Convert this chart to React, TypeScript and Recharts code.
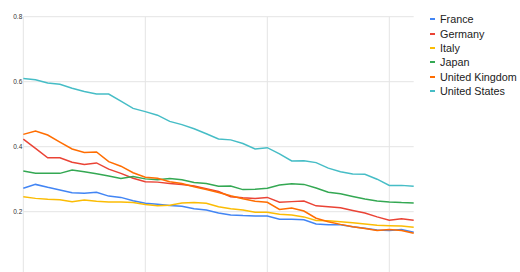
import React from "react";
import { LineChart, Line, XAxis, YAxis, CartesianGrid } from "recharts";

const years = [
  1990, 1991, 1992, 1993, 1994, 1995, 1996, 1997, 1998, 1999, 2000, 2001, 2002, 2003, 2004, 2005, 2006,
  2007, 2008, 2009, 2010, 2011, 2012, 2013, 2014, 2015, 2016, 2017, 2018, 2019, 2020, 2021, 2022,
];

const france = [
  0.272, 0.284, 0.275, 0.267, 0.258, 0.257, 0.26, 0.248, 0.244, 0.234, 0.226, 0.223, 0.219, 0.217, 0.209,
  0.205, 0.196, 0.19, 0.188, 0.187, 0.187, 0.177, 0.177, 0.175, 0.162, 0.16, 0.16, 0.154, 0.149, 0.144,
  0.142, 0.145, 0.137,
];
const germany = [
  0.423, 0.395, 0.366, 0.366, 0.352, 0.345, 0.35, 0.331, 0.318, 0.303, 0.292, 0.291, 0.287, 0.284, 0.279,
  0.271, 0.262, 0.246, 0.243, 0.241, 0.244, 0.229, 0.231, 0.233, 0.218, 0.215, 0.212, 0.204, 0.196, 0.184,
  0.174, 0.178, 0.174,
];
const italy = [
  0.246, 0.241, 0.238, 0.237, 0.231, 0.236, 0.232, 0.23, 0.23, 0.228, 0.222, 0.218, 0.22, 0.227, 0.228,
  0.226, 0.215, 0.209, 0.205, 0.198, 0.198, 0.192, 0.19, 0.184, 0.173, 0.172, 0.169, 0.166, 0.162, 0.158,
  0.157, 0.156, 0.152,
];
const japan = [
  0.325, 0.318, 0.318, 0.318, 0.328, 0.323, 0.317, 0.31, 0.302, 0.308, 0.301, 0.298, 0.302, 0.298, 0.29,
  0.287, 0.278, 0.279, 0.268, 0.269, 0.272, 0.282, 0.286, 0.284, 0.273, 0.26, 0.255, 0.247, 0.239, 0.233,
  0.23, 0.228, 0.227,
];
const unitedKingdom = [
  0.438, 0.448, 0.436, 0.414, 0.393, 0.382, 0.384, 0.354, 0.34, 0.32, 0.306, 0.303, 0.292, 0.287, 0.277,
  0.268, 0.259, 0.249, 0.24, 0.232, 0.229, 0.207, 0.211, 0.202, 0.18, 0.169, 0.161, 0.154, 0.148, 0.142,
  0.145, 0.142, 0.134,
];
const unitedStates = [
  0.61, 0.606, 0.596, 0.592, 0.58, 0.57, 0.562, 0.562, 0.54, 0.518, 0.508, 0.497, 0.478, 0.468, 0.455,
  0.44, 0.424, 0.421, 0.41, 0.393, 0.397, 0.378, 0.356, 0.357, 0.351, 0.334, 0.323, 0.316, 0.315, 0.3,
  0.281, 0.281, 0.278,
];

const seriesNames = ["France", "Germany", "Italy", "Japan", "United Kingdom", "United States"];
const seriesColors = ["#4285f4", "#ea4335", "#fbbc04", "#34a853", "#ff6d01", "#46bdc6"];
const seriesValues = [france, germany, italy, japan, unitedKingdom, unitedStates];

const yTicks = [0, 0.2, 0.4, 0.6, 0.8];
const yLabelTicks = [0.2, 0.4, 0.6, 0.8];
const xTicks = [1990, 2000, 2010, 2020];

const data = years.map((year, i) => {
  const row: Record<string, number> = { year };
  seriesNames.forEach((name, s) => {
    row[name] = seriesValues[s][i];
  });
  return row;
});

const FONT = '"Liberation Sans", Arial, sans-serif';

const verticalGen = (props: any) => {
  const sc = props?.xAxis?.scale;
  if (typeof sc === "function") return xTicks.map((v) => sc(v));
  if (sc && typeof sc.map === "function") return xTicks.map((v) => sc.map(v));
  return [];
};

const YTick = (props: any) => {
  const { x, y, payload } = props;
  if (!yLabelTicks.includes(payload.value)) return null;
  return (
    <text x={x} y={y} dy={2.2} textAnchor="end" fontSize={6.5} fill="#333" fontFamily={FONT}>
      {payload.value}
    </text>
  );
};

export default function App() {
  return (
    <div
      style={{
        position: "fixed",
        left: 0,
        top: 0,
        width: 520,
        height: 272,
        overflow: "hidden",
        background: "#fff",
        fontFamily: FONT,
      }}
    >
      <LineChart
        width={520}
        height={310}
        data={data}
        margin={{ top: 16.7, right: 106.3, bottom: 3.3, left: 0.3 }}
      >
        <CartesianGrid stroke="#e4e4e4" strokeWidth={1} verticalCoordinatesGenerator={verticalGen} />
        <XAxis
          dataKey="year"
          type="number"
          domain={[1990, 2022]}
          ticks={xTicks}
          axisLine={false}
          tickLine={false}
          tick={false}
          height={30}
        />
        <YAxis
          domain={[0, 0.8]}
          ticks={yTicks}
          width={23}
          axisLine={false}
          tickLine={false}
          tickSize={0}
          tickMargin={1}
          tick={<YTick />}
        />
        {seriesNames.map((name, s) => (
          <Line
            key={name}
            dataKey={name}
            stroke={seriesColors[s]}
            strokeWidth={1.5}
            dot={false}
            isAnimationActive={false}
            type="linear"
          />
        ))}
      </LineChart>
      <div style={{ position: "absolute", left: 430, top: 12 }}>
        {seriesNames.map((name, s) => (
          <div
            key={name}
            style={{ display: "flex", alignItems: "center", height: 14.4, fontSize: 10.8, color: "#222" }}
          >
            <span
              style={{
                display: "inline-block",
                width: 5,
                height: 2,
                background: seriesColors[s],
                marginRight: 5,
              }}
            />
            <span>{name}</span>
          </div>
        ))}
      </div>
    </div>
  );
}
